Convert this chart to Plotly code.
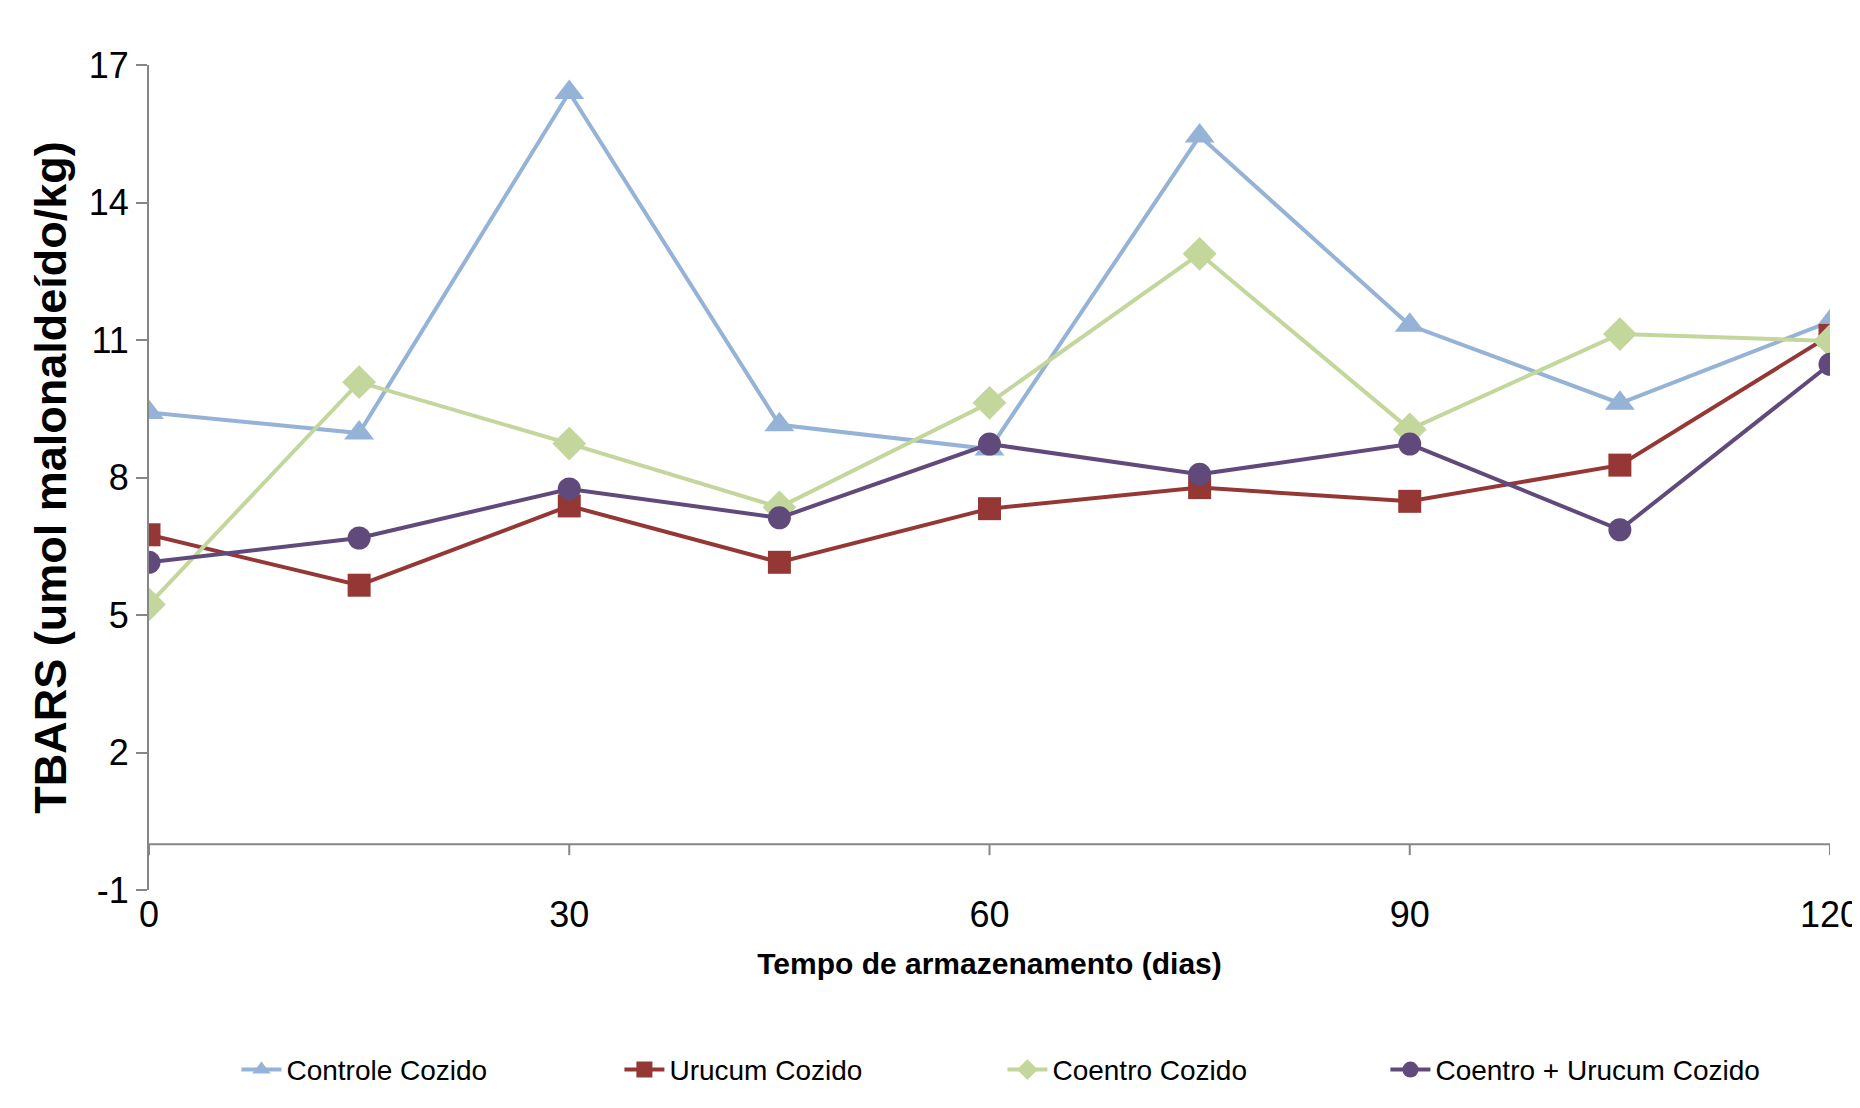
import plotly.graph_objects as go

dias = [0, 15, 30, 45, 60, 75, 90, 105, 120]
controle_cozido = [9.42, 8.97, 16.4, 9.15, 8.62, 15.45, 11.32, 9.62, 11.40]
urucum_cozido = [6.75, 5.65, 7.38, 6.15, 7.32, 7.78, 7.48, 8.27, 11.10]
coentro_cozido = [5.23, 10.08, 8.74, 7.35, 9.63, 12.88, 9.05, 11.13, 10.98]
coentro_urucum_cozido = [6.15, 6.68, 7.75, 7.12, 8.73, 8.07, 8.73, 6.86, 10.47]

x_ticks = [0, 30, 60, 90, 120]
y_ticks = [-1, 2, 5, 8, 11, 14, 17]

series = [
    ("Controle Cozido", controle_cozido, "#95B3D7", "triangle-up", 26),
    ("Urucum Cozido", urucum_cozido, "#953735", "square", 23),
    ("Coentro Cozido", coentro_cozido, "#C3D69B", "diamond", 26),
    ("Coentro + Urucum Cozido", coentro_urucum_cozido, "#604A7B", "circle", 23),
]

FONT = "Liberation Sans, Arial, sans-serif"

fig = go.Figure()
for name, vals, color, sym, size in series:
    fig.add_trace(go.Scatter(
        x=dias, y=vals, name=name, mode="lines+markers",
        line=dict(color=color, width=4),
        marker=dict(symbol=sym, size=size, color=color, line=dict(width=0)),
    ))

# x-axis line at y = 0 with downward ticks
shapes = [dict(type="line", xref="x", yref="y", x0=0, x1=120, y0=0, y1=0,
               line=dict(color="#868686", width=2), layer="below")]
for t in x_ticks:
    shapes.append(dict(type="line", xref="x", yref="y", ysizemode="pixel", yanchor=0,
                       x0=t, x1=t, y0=0, y1=-11,
                       line=dict(color="#868686", width=2), layer="below"))

# the page body adds an 8 px margin, so the figure is sized to fit the window
fig.update_layout(
    width=1852, height=1100,
    paper_bgcolor="white", plot_bgcolor="white",
    margin=dict(l=141, r=30, t=57, b=218),
    shapes=shapes,
    showlegend=True,
    legend=dict(orientation="h", x=0.052, xanchor="left", y=-0.218, yanchor="middle",
                font=dict(family=FONT, size=28, color="black"),
                entrywidth=328, entrywidthmode="pixels", itemwidth=40,
                bgcolor="rgba(0,0,0,0)"),
    xaxis=dict(range=[0, 120], tickvals=x_ticks, ticktext=[str(v) for v in x_ticks],
               showgrid=False, zeroline=False, showline=False, ticks="",
               ticklabeloverflow="allow", automargin=False,
               tickfont=dict(family=FONT, size=36, color="black"),
               title=dict(text="<b>Tempo de armazenamento (dias)</b>",
                          font=dict(family=FONT, size=30, color="black"), standoff=18)),
    yaxis=dict(range=[-1, 17], tickvals=y_ticks, ticktext=[str(v) for v in y_ticks],
               showgrid=False, zeroline=False, showline=True, linecolor="#868686", linewidth=2,
               ticks="outside", ticklen=11, tickwidth=2, tickcolor="#868686",
               automargin=False,
               tickfont=dict(family=FONT, size=36, color="black"),
               title=dict(text="<b>TBARS (umol malonaldeído/kg)</b>",
                          font=dict(family=FONT, size=45, color="black"), standoff=8)),
)

fig.write_html("out.html")
